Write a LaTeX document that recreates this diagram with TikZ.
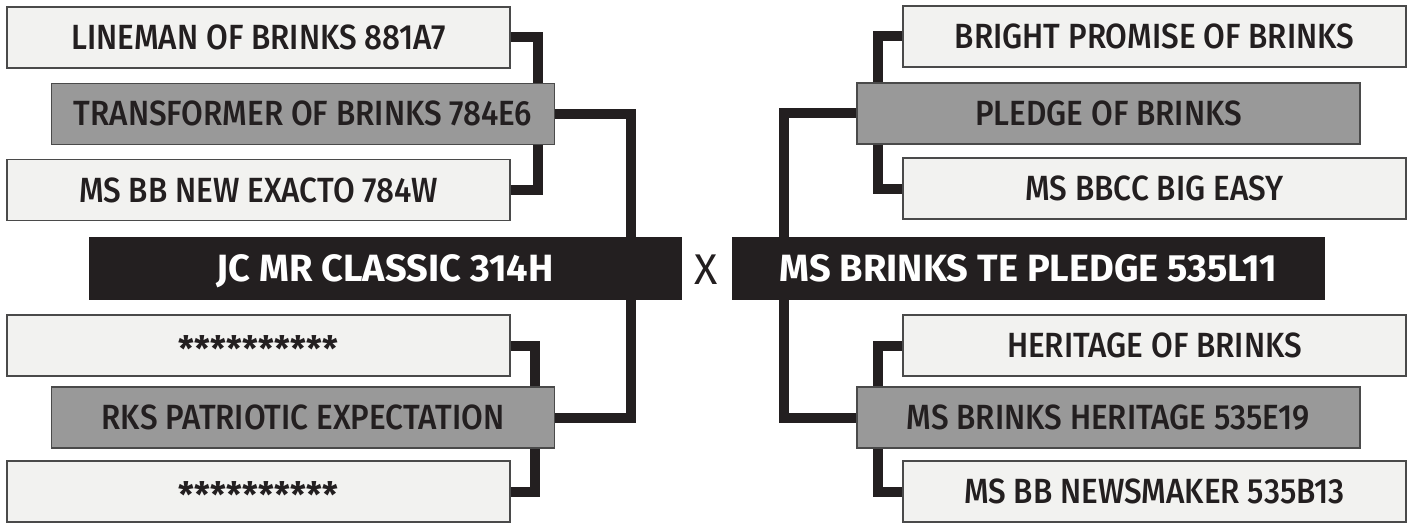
\documentclass[tikz,border=0pt]{standalone}
\usepackage{fontspec}
\setmainfont{Fira Sans}[UprightFont={* Medium}, UprightFeatures={FakeStretch=0.9},
                        BoldFont={* Bold}]
\newfontfamily\crossfont{Fira Sans}
\usepackage{xcolor}
\usepackage{tikz}
\usetikzlibrary{backgrounds}

\definecolor{inkblack}{HTML}{231F20}
\definecolor{paper}{HTML}{F2F2F0}
\definecolor{midgray}{HTML}{999999}
\definecolor{edge}{HTML}{4A4A4A}

\newcommand{\stars}{\raisebox{-4pt}{\bfseries **********}}

\begin{document}
\begin{tikzpicture}[
    x=1pt, y=-1pt,
    horse/.style={draw=edge, line width=1.5pt, fill=paper, minimum width=503pt,
                  minimum height=61pt, inner sep=0pt, text=inkblack,
                  text height=24pt, text depth=0pt,
                  font=\fontsize{35}{38}\selectfont},
    parent/.style={horse, fill=midgray},
    mainbox/.style={fill=inkblack, minimum width=593pt, minimum height=63pt,
                    inner sep=0pt, text=white, text height=26pt, text depth=0pt,
                    font=\fontsize{38}{42}\selectfont\bfseries},
    link/.style={line width=10pt, color=inkblack},
]
\useasboundingbox (0,0) rectangle (1410,524);

% ── Left: sire ────────────────────────────────────────
\node[mainbox] (sire) at (385,268.5) {JC MR CLASSIC 314H};

\node[horse]  (sss) at (258.5,37.5)  {LINEMAN OF BRINKS 881A7};
\node[parent] (ss)  at (303,114)     {TRANSFORMER OF BRINKS 784E6};
\node[horse]  (ssd) at (258.5,190)   {MS BB NEW EXACTO 784W};

\node[horse]  (sds) at (258.5,345.5) {\stars};
\node[parent] (sd)  at (303,417.5)   {RKS PATRIOTIC EXPECTATION};
\node[horse]  (sdd) at (258.5,491.5) {\stars};

% ── Cross ─────────────────────────────────────────────
\node[text=inkblack, font=\fontsize{43}{48}\selectfont\crossfont] (cross) at (706,270) {X};

% ── Right: dam ────────────────────────────────────────
\node[mainbox] (dam) at (1028.5,268.5) {MS BRINKS TE PLEDGE 535L11};

\node[horse]  (dss) at (1154.5,36.5)  {BRIGHT PROMISE OF BRINKS};
\node[parent] (ds)  at (1108.5,113.5) {PLEDGE OF BRINKS};
\node[horse]  (dsd) at (1154.5,188.5) {MS BBCC BIG EASY};

\node[horse]  (dds) at (1154.5,345.5) {HERITAGE OF BRINKS};
\node[parent] (dd)  at (1108.5,417.5) {MS BRINKS HERITAGE 535E19};
\node[horse]  (ddd) at (1154.5,491.5) {MS BB NEWSMAKER 535B13};

% ── Connectors (behind the boxes) ─────────────────────
\begin{scope}[on background layer]
\draw[link] (sss.east) -- ++(27,0) |- (ssd.east);
\draw[link] (sds.east) -- ++(24,0) |- (sdd.east);
\draw[link] (ss.east) -| ([xshift=-51pt]sire.north east);
\draw[link] (sd.east) -| ([xshift=-51pt]sire.south east);

\draw[link] (dss.west) -- ++(-24,0) |- (dsd.west);
\draw[link] (dds.west) -- ++(-24,0) |- (ddd.west);
\draw[link] (ds.west) -| ([xshift=52pt]dam.north west);
\draw[link] (dd.west) -| ([xshift=52pt]dam.south west);
\end{scope}

\end{tikzpicture}
\end{document}
